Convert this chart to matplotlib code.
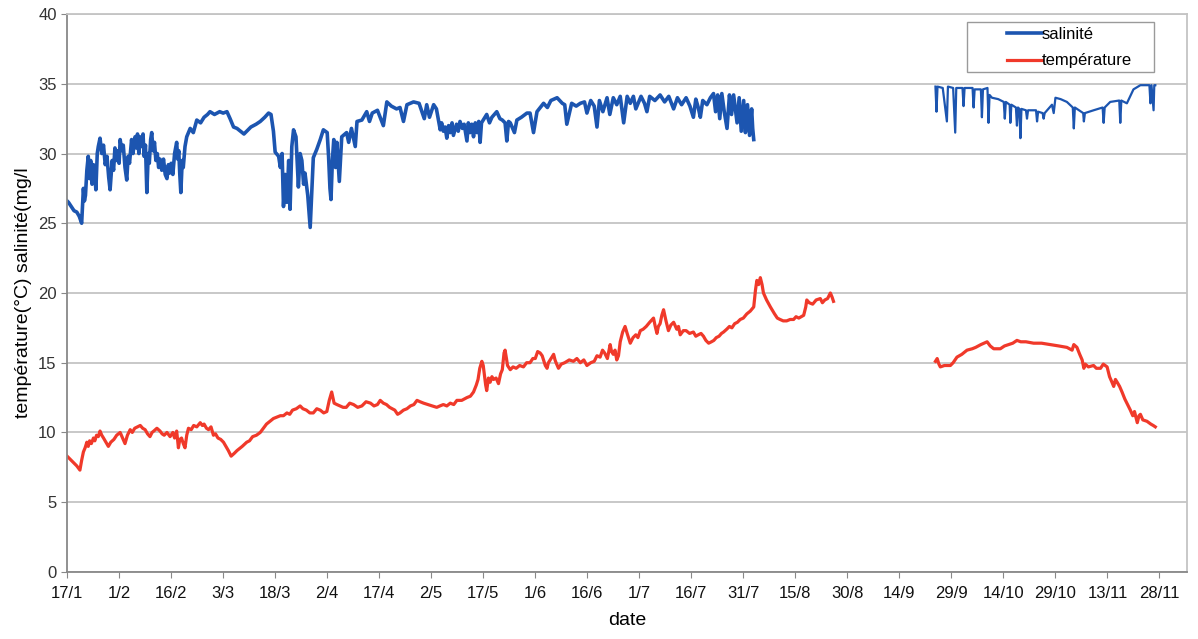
import matplotlib
matplotlib.use("Agg")
import matplotlib.pyplot as plt
from matplotlib.patches import Rectangle

plt.rcParams["font.family"] = ["Liberation Sans", "DejaVu Sans"]

# x = days after 17/1
tick_days = list(range(0, 316, 15))
tick_labels = ["17/1", "1/2", "16/2", "3/3", "18/3", "2/4", "17/4", "2/5", "17/5",
               "1/6", "16/6", "1/7", "16/7", "31/7", "15/8", "30/8", "14/9", "29/9",
               "14/10", "29/10", "13/11", "28/11"]

# salinity, first record (17/1 -> end of July)
sal1_day = [0.0, 0.4, 1.2, 2.0, 2.8, 3.5, 4.2, 4.7, 5.0, 5.3,
            5.7, 6.1, 6.5, 6.8, 7.2, 7.6, 8.0, 8.3, 8.7, 9.0,
            9.5, 10.0, 10.5, 11.0, 11.5, 12.0, 12.4, 13.0, 13.4, 13.8,
            14.2, 14.5, 15.0, 15.3, 15.8, 16.2, 16.7, 17.2, 17.6, 18.0,
            18.6, 19.0, 19.6, 20.0, 20.3, 20.7, 21.0, 21.5, 21.9, 22.2,
            22.6, 23.0, 23.4, 23.7, 24.1, 24.4, 24.8, 25.2, 25.6, 26.0,
            26.4, 26.8, 27.3, 27.8, 28.3, 28.8, 29.2, 29.6, 30.0, 30.5,
            31.0, 31.6, 31.9, 32.2, 32.5, 32.8, 33.2, 33.5, 34.0, 34.5,
            35.5, 36.4, 37.4, 38.5, 39.5, 40.5, 41.2, 42.5, 44.0, 45.0,
            46.1, 47.0, 48.0, 49.0, 50.0, 51.0, 51.8, 53.0, 54.5, 55.7,
            57.0, 58.1, 58.8, 59.5, 60.0, 61.0, 61.5, 62.0, 62.4, 62.9,
            63.4, 63.9, 64.3, 64.8, 65.3, 66.0, 66.7, 67.2, 67.7, 68.2,
            68.6, 69.4, 70.1, 71.0, 72.0, 73.0, 73.9, 75.0, 75.4, 75.8,
            76.1, 76.5, 76.9, 77.4, 77.8, 78.5, 79.2, 80.6, 81.2, 82.0,
            83.1, 83.6, 85.0, 86.4, 87.2, 88.0, 89.5, 91.2, 92.2, 93.5,
            95.0, 96.0, 97.0, 98.0, 99.9, 101.5, 103.0, 103.7, 104.5, 105.7,
            106.5, 107.6, 108.0, 108.5, 109.0, 109.5, 110.0, 110.5, 111.0, 111.4,
            112.3, 112.8, 113.3, 114.0, 114.5, 115.3, 115.7, 116.2, 116.7, 117.2,
            117.7, 118.2, 118.7, 119.1, 119.5, 120.0, 121.0, 121.8, 122.5, 123.9,
            124.8, 125.5, 126.3, 126.8, 127.3, 127.8, 129.0, 129.7, 131.0, 132.6,
            133.5, 134.5, 135.5, 137.4, 138.5, 139.5, 141.3, 142.8, 143.5, 144.1,
            145.5, 146.8, 148.0, 149.2, 149.9, 151.0, 152.0, 152.8, 153.5, 154.5,
            155.7, 156.5, 157.5, 158.5, 159.5, 160.5, 161.5, 162.4, 163.3, 164.0,
            165.5, 166.5, 167.2, 168.0, 169.5, 171.0, 172.3, 173.5, 174.9, 176.0,
            177.2, 178.5, 179.6, 180.6, 181.3, 182.0, 182.6, 183.3, 184.5, 185.5,
            186.4, 187.0, 187.6, 188.2, 188.8, 189.5, 190.3, 191.0, 191.6, 192.2,
            193.2, 193.8, 194.4, 195.1, 195.6, 196.2, 196.8, 197.4, 197.7, 198.0]
sal1_val = [26.6, 26.5, 26.2, 25.9, 25.8, 25.5, 25.0, 27.5, 26.6, 27.0,
            28.8, 29.8, 28.2, 29.5, 27.8, 29.2, 28.5, 27.4, 30.0, 30.5,
            31.1, 30.0, 30.6, 29.2, 29.8, 28.3, 27.4, 29.5, 28.8, 30.4,
            29.5, 30.2, 29.3, 31.0, 30.2, 30.6, 29.0, 28.1, 29.8, 29.3,
            31.0, 30.0, 31.2, 30.4, 31.4, 30.0, 31.2, 30.5, 31.4, 29.8,
            30.6, 27.2, 30.0, 29.3, 31.0, 31.5, 30.2, 30.8, 29.5, 30.0,
            29.0, 29.6, 28.8, 29.6, 28.5, 28.2, 29.2, 28.6, 29.3, 28.5,
            30.0, 30.8, 29.6, 30.2, 28.5, 27.2, 29.5, 29.0, 30.5, 31.2,
            31.8, 31.5, 32.4, 32.2, 32.6, 32.8, 33.0, 32.8, 33.0, 32.9,
            33.0, 32.5, 31.9, 31.8, 31.6, 31.4, 31.6, 31.9, 32.1, 32.3,
            32.6, 32.9, 32.8, 31.6, 30.1, 29.8, 29.0, 30.0, 26.2, 28.5,
            26.5, 29.5, 26.0, 30.5, 31.7, 31.2, 27.6, 30.0, 29.5, 27.8,
            28.6, 27.0, 24.7, 29.7, 30.3, 31.0, 31.7, 31.5, 29.8, 27.5,
            26.7, 29.5, 31.0, 29.0, 30.8, 28.0, 31.2, 31.5, 30.8, 31.8,
            30.5, 32.3, 32.4, 33.0, 32.3, 32.9, 33.1, 32.0, 33.7, 33.4,
            33.2, 33.3, 32.3, 33.5, 33.7, 33.6, 32.5, 33.5, 32.6, 33.5,
            33.2, 31.7, 32.2, 31.6, 31.9, 31.1, 32.0, 31.5, 32.2, 31.3,
            32.1, 31.6, 32.3, 31.8, 32.1, 30.9, 32.2, 31.5, 32.1, 31.2,
            32.2, 31.5, 32.3, 30.8, 32.2, 32.4, 32.8, 32.2, 32.6, 33.0,
            32.5, 32.4, 32.2, 30.9, 32.3, 32.2, 31.5, 32.4, 32.6, 32.9,
            32.9, 31.5, 33.0, 33.6, 33.3, 33.8, 34.0, 33.6, 33.5, 32.1,
            33.6, 33.4, 33.6, 33.7, 32.9, 33.8, 33.4, 31.9, 33.8, 33.0,
            34.0, 32.8, 34.0, 33.5, 34.1, 32.2, 34.1, 33.6, 34.1, 33.2,
            34.1, 33.6, 33.0, 34.1, 33.8, 34.2, 33.7, 34.1, 33.2, 34.0,
            33.5, 34.0, 33.4, 32.6, 33.9, 33.3, 32.6, 33.8, 33.5, 34.0,
            34.3, 33.0, 34.2, 32.5, 34.3, 33.0, 31.8, 34.2, 32.8, 34.2,
            32.2, 34.0, 31.6, 33.8, 31.5, 33.5, 31.3, 33.2, 31.8, 31.0]

# salinity, second record (late September -> end of November)
sal2_day = [250.4, 250.7, 251.0, 252.5, 253.7, 254.0, 255.5, 256.1, 256.4, 258.2, 258.5, 258.8,
            261.1, 261.4, 261.7, 263.5, 263.8, 264.1, 265.4, 265.7, 266.0, 266.7, 268.5, 270.1,
            270.4, 270.7, 271.8, 272.0, 272.3, 273.6, 273.9, 274.2, 274.6, 274.9, 275.2, 276.5,
            276.8, 277.1, 279.4, 279.7, 280.0, 281.3, 281.6, 281.9, 284.0, 284.5, 285.0, 286.5,
            288.3, 290.0, 290.3, 290.6, 293.0, 293.2, 293.5, 296.0, 298.6, 298.9, 299.2, 300.8,
            303.4, 303.7, 304.0, 305.6, 307.5, 309.5, 312.1, 312.4, 312.7, 313.3, 313.5, 313.8]
sal2_val = [34.8, 33.0, 34.8, 34.7, 32.3, 34.8, 34.7, 31.5, 34.7, 34.7, 33.4, 34.7,
            34.7, 33.3, 34.6, 34.6, 32.6, 34.6, 34.7, 32.2, 34.2, 34.0, 33.9, 33.7,
            32.5, 33.7, 33.5, 32.2, 33.5, 33.3, 32.0, 33.3, 33.2, 31.1, 33.2, 33.1,
            32.5, 33.1, 33.1, 32.3, 33.0, 32.9, 32.5, 32.9, 33.5, 32.9, 34.0, 33.9,
            33.7, 33.3, 31.8, 33.3, 32.9, 32.3, 32.9, 33.1, 33.3, 32.2, 33.3, 33.7,
            33.8, 32.2, 33.8, 33.6, 34.6, 34.9, 34.9, 33.6, 34.9, 33.1, 34.9, 34.9]

# temperature, first record
temp1_day = [0.0, 0.4, 1.2, 2.0, 2.8, 3.7, 4.2, 4.7, 5.2, 5.7,
             6.1, 6.5, 7.0, 7.6, 8.0, 8.5, 9.0, 9.5, 10.0, 10.5,
             11.2, 11.9, 12.6, 13.5, 14.3, 15.3, 16.0, 16.7, 17.4, 18.2,
             18.8, 19.5, 20.3, 21.1, 21.8, 22.5, 23.2, 23.9, 24.5, 25.0,
             25.9, 26.8, 27.4, 28.0, 28.8, 29.7, 30.5, 31.0, 31.6, 32.1,
             32.5, 33.0, 33.5, 34.0, 34.5, 35.0, 35.8, 36.5, 37.4, 38.4,
             39.0, 39.5, 40.2, 40.8, 41.5, 42.2, 42.8, 43.5, 44.3, 45.1,
             45.8, 46.5, 47.3, 48.2, 49.0, 50.5, 51.8, 52.6, 53.5, 54.6,
             55.7, 56.6, 57.5, 58.5, 59.5, 60.5, 61.5, 62.4, 63.4, 64.2,
             65.0, 66.1, 67.2, 68.0, 69.0, 70.0, 71.0, 72.0, 73.0, 74.0,
             74.9, 75.6, 76.3, 77.0, 77.8, 78.7, 79.6, 80.5, 81.5, 82.6,
             83.8, 85.0, 86.2, 87.5, 88.5, 89.5, 90.3, 91.2, 92.1, 93.0,
             94.5, 95.3, 96.0, 97.0, 98.0, 99.0, 100.0, 100.9, 101.8, 102.8,
             104.0, 105.3, 106.6, 107.5, 108.5, 109.5, 110.5, 111.5, 112.4, 113.8,
             115.3, 116.3, 117.2, 118.0, 118.5, 119.0, 119.6, 120.0, 120.3, 120.7,
             121.0, 121.5, 122.0, 122.5, 123.0, 123.7, 124.4, 125.0, 125.5, 126.0,
             126.3, 126.7, 127.0, 127.8, 128.6, 129.5, 130.5, 131.6, 132.5, 133.5,
             134.3, 135.0, 135.7, 136.4, 137.0, 137.4, 137.9, 138.4, 138.8, 139.3,
             139.8, 140.3, 140.7, 141.0, 141.7, 142.5, 143.5, 144.8, 146.0, 147.0,
             148.0, 149.0, 149.9, 151.0, 152.0, 152.8, 153.7, 154.4, 155.0, 155.8,
             156.6, 157.0, 157.5, 158.0, 158.5, 159.0, 159.5, 160.2, 160.9, 161.5,
             162.4, 163.2, 164.0, 164.6, 165.3, 166.1, 167.0, 168.0, 169.1, 169.6,
             170.1, 170.5, 171.0, 171.5, 172.0, 172.7, 173.4, 174.1, 174.9, 175.8,
             176.3, 176.8, 177.7, 178.5, 179.5, 180.6, 181.3, 182.0, 182.8, 183.5,
             184.2, 185.0, 185.8, 186.5, 187.2, 188.0, 188.7, 189.3, 190.2, 191.0,
             191.7, 192.5, 193.3, 194.1, 195.0, 196.0, 197.0, 198.0, 198.5, 198.9,
             199.4, 199.9, 200.4, 200.8, 201.7, 202.8, 204.0, 204.8, 205.6, 206.5,
             207.5, 208.5, 209.5, 210.2, 211.0, 211.7, 212.4, 213.0, 213.3, 214.0,
             215.0, 216.0, 217.2, 217.8, 218.5, 219.3, 220.1, 220.6, 221.0]
temp1_val = [8.3, 8.2, 8.0, 7.8, 7.6, 7.3, 8.0, 8.6, 8.9, 9.3,
             9.0, 9.4, 9.2, 9.6, 9.4, 9.8, 9.7, 10.1, 9.8, 9.6,
             9.3, 9.0, 9.3, 9.5, 9.8, 10.0, 9.6, 9.2, 9.8, 10.2,
             10.0, 10.3, 10.4, 10.5, 10.3, 10.2, 9.9, 9.7, 10.0, 10.1,
             10.3, 10.1, 9.9, 9.8, 10.0, 9.7, 10.0, 9.6, 10.1, 8.9,
             9.5, 9.6, 9.2, 8.9, 9.8, 10.3, 10.2, 10.5, 10.4, 10.7,
             10.5, 10.6, 10.3, 10.2, 10.4, 9.8, 9.9, 9.6, 9.5, 9.3,
             9.0, 8.7, 8.3, 8.5, 8.7, 9.0, 9.3, 9.4, 9.7, 9.8,
             10.0, 10.3, 10.6, 10.8, 11.0, 11.1, 11.2, 11.2, 11.4, 11.3,
             11.6, 11.7, 11.9, 11.7, 11.6, 11.4, 11.4, 11.7, 11.6, 11.4,
             11.5, 12.3, 12.9, 12.1, 12.0, 11.9, 11.8, 11.8, 12.1, 12.0,
             11.8, 11.9, 12.2, 12.1, 11.9, 12.0, 12.3, 12.1, 12.0, 11.8,
             11.6, 11.3, 11.4, 11.6, 11.7, 11.9, 12.0, 12.3, 12.2, 12.1,
             12.0, 11.9, 11.8, 11.9, 12.0, 11.9, 12.1, 12.0, 12.3, 12.3,
             12.5, 12.6, 12.9, 13.4, 13.8, 14.6, 15.1, 14.8, 14.2, 13.4,
             13.0, 13.9, 13.6, 14.0, 13.8, 13.9, 13.5, 14.2, 14.5, 15.7,
             15.9, 15.3, 14.8, 14.5, 14.7, 14.6, 14.8, 14.7, 15.0, 15.0,
             15.3, 15.3, 15.8, 15.7, 15.5, 15.2, 14.8, 14.6, 15.0, 15.2,
             15.4, 15.6, 15.2, 15.0, 14.6, 14.9, 15.0, 15.2, 15.1, 15.3,
             15.0, 15.2, 14.8, 15.0, 15.1, 15.5, 15.4, 15.9, 15.7, 15.3,
             16.3, 15.8, 15.6, 15.9, 15.2, 15.5, 16.5, 17.2, 17.6, 17.1,
             16.4, 16.8, 17.0, 16.8, 17.3, 17.4, 17.6, 17.9, 18.2, 17.6,
             17.1, 17.6, 17.8, 18.4, 18.8, 18.0, 17.3, 17.7, 17.9, 17.4,
             17.6, 17.0, 17.3, 17.3, 17.1, 17.2, 16.9, 17.0, 17.1, 16.9,
             16.6, 16.4, 16.5, 16.6, 16.8, 16.9, 17.1, 17.2, 17.4, 17.6,
             17.5, 17.8, 17.9, 18.1, 18.2, 18.5, 18.7, 19.0, 20.2, 20.9,
             20.6, 21.1, 20.6, 20.0, 19.5, 19.0, 18.5, 18.2, 18.1, 18.0,
             18.0, 18.1, 18.1, 18.3, 18.2, 18.3, 18.4, 19.0, 19.5, 19.3,
             19.2, 19.5, 19.6, 19.3, 19.5, 19.6, 20.0, 19.7, 19.4]

# temperature, second record
temp2_day = [250.4, 250.9, 251.4, 251.8, 253.0, 254.7, 255.5, 256.6, 258.0, 259.5,
             261.0, 262.0, 263.5, 265.3, 266.2, 267.2, 268.2, 269.1, 270.3, 271.5,
             272.7, 273.9, 275.0, 276.5, 278.7, 281.0, 283.5, 286.0, 288.3, 289.8,
             290.3, 291.2, 292.0, 292.7, 293.2, 293.6, 294.5, 296.0, 296.8, 298.0,
             298.8, 299.9, 300.6, 301.3, 301.8, 302.3, 302.8, 303.5, 304.2, 305.0,
             305.8, 306.6, 307.3, 307.8, 308.6, 309.1, 309.5, 310.2, 311.4, 312.5,
             313.2, 313.8]
temp2_val = [15.1, 15.3, 14.9, 14.7, 14.8, 14.8, 15.0, 15.4, 15.6, 15.9,
             16.0, 16.1, 16.3, 16.5, 16.2, 16.0, 16.0, 16.0, 16.2, 16.3,
             16.4, 16.6, 16.5, 16.5, 16.4, 16.4, 16.3, 16.2, 16.1, 15.9,
             16.3, 16.1, 15.6, 15.2, 14.6, 14.9, 14.7, 14.8, 14.6, 14.6,
             14.9, 14.7, 14.0, 13.6, 13.3, 13.8, 13.6, 13.3, 12.9, 12.4,
             12.0, 11.6, 11.2, 11.5, 10.7, 11.2, 11.3, 10.9, 10.8, 10.6,
             10.5, 10.4]

blue = "#1c55b0"
red = "#f0392a"

fig = plt.figure(figsize=(11.98, 6.39), dpi=100)
ax = fig.add_axes([0.056, 0.105, 0.935, 0.873])

ax.plot(sal1_day, sal1_val, color=blue, linewidth=2.6, label="salinité")
ax.plot(sal2_day, sal2_val, color=blue, linewidth=1.6)
ax.plot(temp1_day, temp1_val, color=red, linewidth=2.3, label="température")
ax.plot(temp2_day, temp2_val, color=red, linewidth=2.3)

ax.set_xlim(0, 323)
ax.set_ylim(0, 40)
ax.set_yticks(range(0, 41, 5))
ax.set_xticks(tick_days)
ax.set_xticklabels(tick_labels, fontsize=12, color="#111111")
ax.tick_params(axis="y", labelsize=12, labelcolor="#333333", length=4, color="#888888")
ax.tick_params(axis="x", length=4, color="#888888", pad=6)

ax.yaxis.grid(True, color="#c4c4c4", linewidth=1.3)
ax.set_axisbelow(True)
for side in ["top", "right"]:
    ax.spines[side].set_color("#c4c4c4")
    ax.spines[side].set_linewidth(1.3)
for side in ["left", "bottom"]:
    ax.spines[side].set_color("#888888")
    ax.spines[side].set_linewidth(1.3)

ax.set_xlabel("date", fontsize=14, labelpad=8)
ax.set_ylabel("température(°C) salinité(mg/l", fontsize=14, labelpad=4)

# legend box
ax.add_patch(Rectangle((0.8036, 0.896), 0.167, 0.0896, transform=ax.transAxes,
                       facecolor="white", edgecolor="#9a9a9a", linewidth=1.0, zorder=5))
ax.legend(loc="upper left", bbox_to_anchor=(0.833, 0.9892), frameon=False,
          fontsize=12, handlelength=2.1, handletextpad=0.0, labelspacing=0.7,
          borderaxespad=0)
ax.get_legend().set_zorder(6)

fig.savefig("out.png", dpi=100)
plt.close(fig)
